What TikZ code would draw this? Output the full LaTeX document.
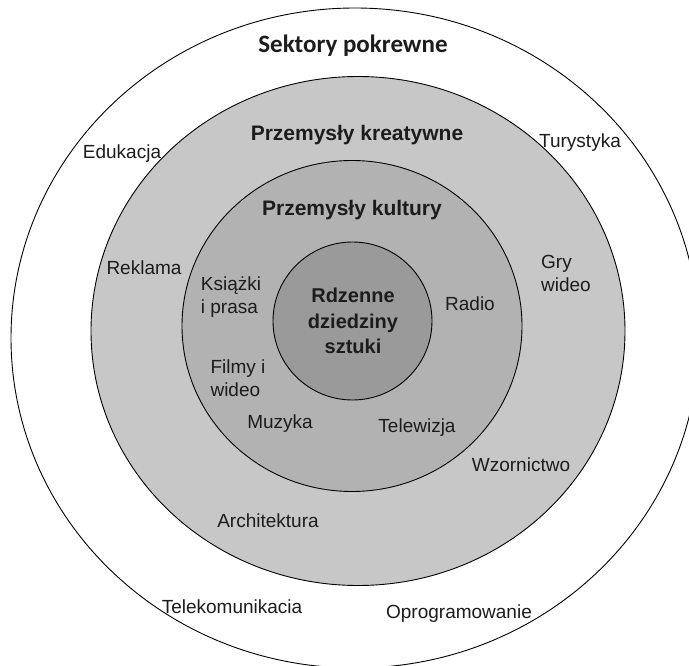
\documentclass[tikz,border=0pt]{standalone}
\usepackage{fontspec}
\setmainfont{Liberation Sans}
\newfontfamily\headfont{Carlito}
\definecolor{txt}{HTML}{1C1C1C}
\definecolor{ringtwo}{HTML}{C7C7C7}
\definecolor{ringthree}{HTML}{B2B2B2}
\definecolor{ringcore}{HTML}{9A9A9A}
\begin{document}
\begin{tikzpicture}[x=1pt,y=-1pt,
  ring/.style={draw=black,line width=0.9pt},
  lbl/.style={font=\fontsize{19}{23}\selectfont, text=txt, inner sep=0pt, align=left},
  head/.style={font=\bfseries\fontsize{21}{26}\selectfont, text=txt, inner sep=0pt, align=center}]
\useasboundingbox (0,0) rectangle (689,666);
\clip (0,0) rectangle (689,666);
\fill[white] (0,0) rectangle (689,666);

% concentric rings
\draw[ring, fill=white]     (355,338) ellipse [x radius=344pt, y radius=330pt];
\draw[ring, fill=ringtwo]   (358,331) ellipse [x radius=267pt, y radius=254.5pt];
\draw[ring, fill=ringthree] (352,326) ellipse [x radius=170pt, y radius=165.5pt];
\draw[ring, fill=ringcore]  (352.5,321) ellipse [x radius=79.5pt, y radius=79pt];

% ring titles
\node[head, font=\headfont\bfseries\fontsize{25}{30}\selectfont] (sektory) at (353,46) {Sektory pokrewne};
\node[head] (kreatywne) at (357,135) {Przemysły kreatywne};
\node[head] (kultury) at (352,210) {Przemysły kultury};
\node[head, font=\bfseries\fontsize{20}{25.5}\selectfont] (rdzen) at (353,321) {Rdzenne\\dziedziny\\sztuki};

% related sectors
\node[lbl] (edukacja) at (122,154) {Edukacja};
\node[lbl] (turystyka) at (580,143) {Turystyka};
\node[lbl] (telekom) at (232,607) {Telekomunikacia};
\node[lbl] (oprogram) at (459,614) {Oprogramowanie};

% creative industries
\node[lbl] (reklama) at (144,268) {Reklama};
\node[lbl] (gry) at (566,273) {Gry\\wideo};
\node[lbl] (wzornictwo) at (521,465) {Wzornictwo};
\node[lbl] (architektura) at (268,521) {Architektura};

% cultural industries
\node[lbl] (ksiazki) at (231,297) {Książki\\i prasa};
\node[lbl] (filmy) at (238,378) {Filmy i\\wideo};
\node[lbl] (muzyka) at (280,424) {Muzyka};
\node[lbl] (telewizja) at (417,428) {Telewizja};
\node[lbl] (radio) at (470,304) {Radio};
\end{tikzpicture}
\end{document}
